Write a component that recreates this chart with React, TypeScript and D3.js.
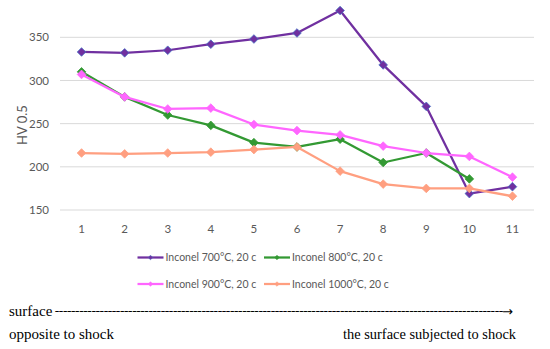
import * as d3 from 'd3';

const categories = ['1', '2', '3', '4', '5', '6', '7', '8', '9', '10', '11'];
const yTicks = [150, 200, 250, 300, 350];

const inconel700 = [333, 332, 335, 342, 348, 355, 381, 318, 270, 169, 177];
const inconel800 = [310, 281, 260, 248, 228, 223, 232, 205, 216, 186, null];
const inconel900 = [307, 281, 267, 268, 249, 242, 237, 224, 216, 212, 188];
const inconel1000 = [216, 215, 216, 217, 220, 223, 195, 180, 175, 175, 166];

const seriesNames = ['Inconel 700°C, 20 c', 'Inconel 800°C, 20  c', 'Inconel 900°C, 20 c', 'Inconel 1000°C, 20 c'];
const seriesValues = [inconel700, inconel800, inconel900, inconel1000];
const lineColors = ['#7030a0', '#339933', '#ff66ff', '#ff9f80'];
const markerStroke = ['#4472c4', '#339933', '#ff66ff', '#ff9f80'];

function App() {
    const width = 550;
    const height = 349;
    const plot = { left: 60, right: 534, top: 37.3, bottom: 210 };

    const xScale = d3.scaleBand<string>()
        .domain(categories)
        .range([plot.left, plot.right]);

    const yScale = d3.scaleLinear()
        .domain([150, 350])
        .range([plot.bottom, plot.top]);

    const cx = (i: number) => (xScale(categories[i]) as number) + xScale.bandwidth() / 2;

    const line = d3.line<number | null>()
        .defined(d => d != null)
        .x((_, i) => cx(i))
        .y(d => yScale(d as number));

    const diamond = d3.symbol().type(d3.symbolDiamond2).size(48)();
    const sans = 'Lato, "Open Sans", sans-serif';
    const serif = '"Liberation Serif", "DejaVu Serif", serif';

    const legendPos = [
        { x: 137.5, y: 257.5 },
        { x: 264, y: 257.5 },
        { x: 137.5, y: 284 },
        { x: 264, y: 284 },
    ];

    return (
        <svg width={width} height={height} style={{ position: 'absolute', left: 0, top: 0 }}>
            <rect width={width} height={height} fill="#fff" />
            {yTicks.map(t => (
                <g key={t}>
                    <line x1={plot.left} x2={plot.right} y1={yScale(t)} y2={yScale(t)} stroke="#d9d9d9" strokeWidth={1} />
                    <text x={49} y={yScale(t)} dy="0.35em" textAnchor="end" fontFamily={sans} fontSize={11.5} fill="#595959">{t}</text>
                </g>
            ))}
            {categories.map((c, i) => (
                <text key={c} x={cx(i)} y={229} dy="0.35em" textAnchor="middle" fontFamily={sans} fontSize={11.5} fill="#595959">{c}</text>
            ))}
            <text transform={`translate(22,125) rotate(-90)`} textAnchor="middle" dy="0.35em" fontFamily={sans} fontSize={13} fill="#595959">HV 0.5</text>

            {seriesValues.map((vals, s) => (
                <g key={s}>
                    <path d={line(vals) || ''} fill="none" stroke={lineColors[s]} strokeWidth={2.25} strokeLinejoin="round" />
                    {vals.map((v, i) => v == null ? null : (
                        <path key={i} d={diamond || ''} transform={`translate(${cx(i)},${yScale(v)})`} fill={lineColors[s]} stroke={markerStroke[s]} strokeWidth={0.75} />
                    ))}
                </g>
            ))}

            {seriesNames.map((name, s) => (
                <g key={name} transform={`translate(${legendPos[s].x},${legendPos[s].y})`}>
                    <line x1={0} x2={26} y1={0} y2={0} stroke={lineColors[s]} strokeWidth={2.25} />
                    <path d={d3.symbol().type(d3.symbolDiamond2).size(14)() || ''} transform="translate(13,0)" fill={lineColors[s]} stroke={markerStroke[s]} strokeWidth={0.5} />
                    <text x={28} y={0} dy="0.35em" fontFamily={sans} fontSize={10.5} fill="#595959">{name}</text>
                </g>
            ))}

            <text x={9} y={316} fontFamily={serif} fontSize={15} fill="#000">surface</text>
            <text x={55} y={315} fontFamily={serif} fontSize={12} fill="#000" stroke="#000" strokeWidth={0.2} textLength={448} lengthAdjust="spacing">{'-'.repeat(110)}</text>
            <text x={502} y={316} fontFamily='"DejaVu Sans", sans-serif' fontSize={13} fill="#000">→</text>
            <text x={9} y={339} fontFamily={serif} fontSize={15} fill="#000">opposite to shock</text>
            <text x={516} y={339} textAnchor="end" fontFamily={serif} fontSize={15} fill="#000" textLength={173} lengthAdjust="spacingAndGlyphs">the surface subjected to shock</text>
        </svg>
    );
}

export default App;
